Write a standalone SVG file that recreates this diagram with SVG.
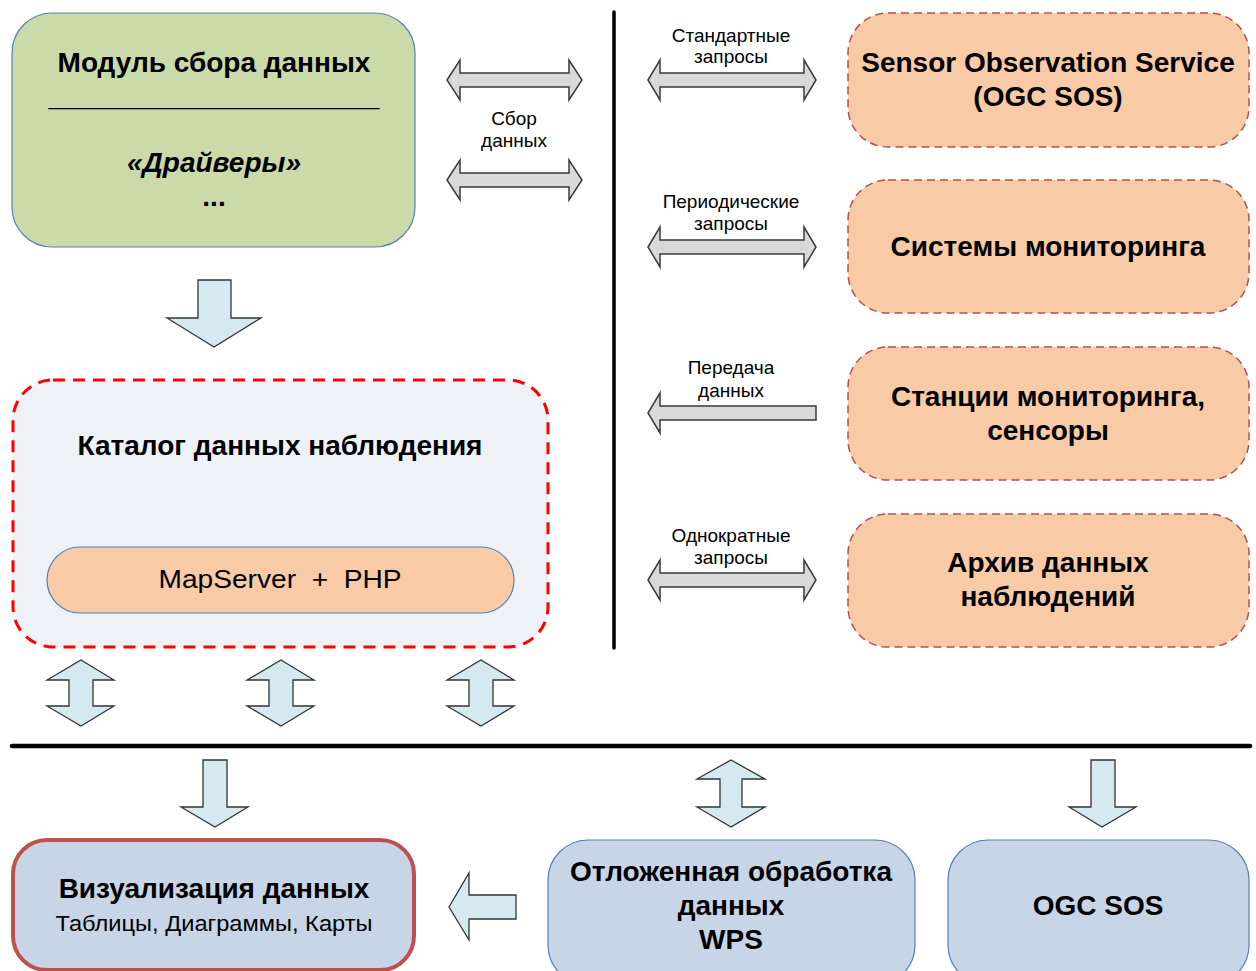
<svg xmlns="http://www.w3.org/2000/svg" width="1256" height="971" viewBox="0 0 1256 971">
<style>
  text { font-family: "Liberation Sans", Arial, sans-serif; fill: #000; text-anchor: middle; }
  .big { font-size: 28px; font-weight: bold; }
  .lbl { font-size: 19px; }
  .grey { fill: #d9d9d9; stroke: #3a3a3a; stroke-width: 1.5; stroke-linejoin: miter; }
  .blue { fill: #d5eaf0; stroke: #333; stroke-width: 1.3; }
  .orange { fill: #f8cba6; stroke: #b5504a; stroke-width: 1.5; stroke-dasharray: 8 5; }
  .bluebox { fill: #c8d5e6; stroke: #4f81bd; stroke-width: 1.2; }
</style>

<g id="divider-lines">
  <line x1="614" y1="12" x2="614" y2="648" stroke="#000" stroke-width="3.5" stroke-linecap="round"/>
  <line x1="12" y1="746" x2="1250" y2="746" stroke="#000" stroke-width="4.5" stroke-linecap="round"/>
</g>

<g id="node-collect">
  <rect x="12" y="13" width="403" height="234" rx="40" fill="#cbdaa9" stroke="#4f81bd" stroke-width="1.2"/>
  <text class="big" x="214" y="72">Модуль сбора данных</text>
  <text class="big" x="214" y="106" textLength="331" lengthAdjust="spacingAndGlyphs">_______________________</text>
  <text class="big" x="214" y="172" font-style="italic">«Драйверы»</text>
  <text class="big" x="214" y="206">...</text>
</g>

<g id="node-catalog">
  <rect x="13" y="380" width="535" height="267" rx="40" fill="#eef1f6" stroke="#ff0000" stroke-width="3" stroke-dasharray="12 8"/>
  <text class="big" x="280" y="455">Каталог данных наблюдения</text>
</g>
<g id="node-mapserver">
  <rect x="47" y="547" width="467" height="66" rx="33" fill="#f8cba6" stroke="#4f81bd" stroke-width="1.2"/>
  <text x="280" y="588" font-size="25px" xml:space="preserve" textLength="243" lengthAdjust="spacingAndGlyphs">MapServer  +  PHP</text>
</g>

<g id="node-sos">
  <rect class="orange" x="848" y="13" width="401" height="134" rx="40"/>
  <text class="big" x="1048" y="72">Sensor Observation Service</text>
  <text class="big" x="1048" y="106">(OGC SOS)</text>
</g>
<g id="node-monsys">
  <rect class="orange" x="848" y="180" width="401" height="133" rx="40"/>
  <text class="big" x="1048" y="256">Системы мониторинга</text>
</g>
<g id="node-stations">
  <rect class="orange" x="848" y="347" width="401" height="133" rx="40"/>
  <text class="big" x="1048" y="406">Станции мониторинга,</text>
  <text class="big" x="1048" y="440">сенсоры</text>
</g>
<g id="node-archive">
  <rect class="orange" x="848" y="514" width="401" height="133" rx="40"/>
  <text class="big" x="1048" y="572">Архив данных</text>
  <text class="big" x="1048" y="606">наблюдений</text>
</g>

<g id="node-vis">
  <rect x="13" y="840" width="401" height="130" rx="34" fill="#c8d5e6" stroke="#c0504d" stroke-width="4"/>
  <text class="big" x="214" y="898">Визуализация данных</text>
  <text x="214" y="931" font-size="22px" textLength="317" lengthAdjust="spacingAndGlyphs">Таблицы, Диаграммы, Карты</text>
</g>
<g id="node-wps">
  <rect class="bluebox" x="548" y="840" width="367" height="145" rx="40"/>
  <text class="big" x="731" y="881">Отложенная обработка</text>
  <text class="big" x="731" y="915">данных</text>
  <text class="big" x="731" y="949">WPS</text>
</g>
<g id="node-ogcsos">
  <rect class="bluebox" x="948" y="840" width="301" height="145" rx="40"/>
  <text class="big" x="1098" y="915">OGC SOS</text>
</g>

<g id="connectors">
  <!-- left grey double arrows -->
  <path class="grey" d="M447,80 L460,60 L460,73 L569,73 L569,60 L582,80 L569,100 L569,87 L460,87 L460,100 Z"/>
  <path class="grey" d="M447,180 L460,160 L460,173 L569,173 L569,160 L582,180 L569,200 L569,187 L460,187 L460,200 Z"/>
  <text class="lbl" x="514" y="125">Сбор</text>
  <text class="lbl" x="514" y="147">данных</text>

  <!-- right grey arrows -->
  <text class="lbl" x="731" y="42">Стандартные</text>
  <text class="lbl" x="731" y="63">запросы</text>
  <path class="grey" d="M648,80 L660,60 L660,73 L804,73 L804,60 L816,80 L804,100 L804,87 L660,87 L660,100 Z"/>

  <text class="lbl" x="731" y="208">Периодические</text>
  <text class="lbl" x="731" y="230">запросы</text>
  <path class="grey" d="M648,247 L660,227 L660,240 L804,240 L804,227 L816,247 L804,267 L804,254 L660,254 L660,267 Z"/>

  <text class="lbl" x="731" y="374">Передача</text>
  <text class="lbl" x="731" y="397">данных</text>
  <path class="grey" d="M648,413 L660,393 L660,406 L816,406 L816,420 L660,420 L660,433 Z"/>

  <text class="lbl" x="731" y="542">Однократные</text>
  <text class="lbl" x="731" y="564">запросы</text>
  <path class="grey" d="M648,580 L660,560 L660,573 L804,573 L804,560 L816,580 L804,600 L804,587 L660,587 L660,600 Z"/>

  <!-- down arrow collect -> catalog -->
  <path class="blue" d="M198,280 L231,280 L231,318 L261,318 L214,347 L167,318 L198,318 Z"/>

  <!-- catalog vertical double arrows -->
  <path class="blue" d="M81,660 L114,680 L93,680 L93,706 L114,706 L81,726 L47,706 L69,706 L69,680 L47,680 Z"/>
  <path class="blue" d="M281,660 L314,680 L293,680 L293,706 L314,706 L281,726 L247,706 L269,706 L269,680 L247,680 Z"/>
  <path class="blue" d="M481,660 L514,680 L493,680 L493,706 L514,706 L481,726 L447,706 L469,706 L469,680 L447,680 Z"/>

  <!-- bottom arrows -->
  <path class="blue" d="M203,760 L227,760 L227,807 L248,807 L215,827 L181,807 L203,807 Z"/>
  <path class="blue" d="M731,760 L765,779 L742,779 L742,807 L765,807 L731,827 L697,807 L720,807 L720,779 L697,779 Z"/>
  <path class="blue" d="M1091,760 L1115,760 L1115,807 L1136,807 L1102,827 L1069,807 L1091,807 Z"/>
  <path class="blue" d="M449,907 L469,873 L469,895 L516,895 L516,919 L469,919 L469,940 Z"/>
</g>
</svg>
